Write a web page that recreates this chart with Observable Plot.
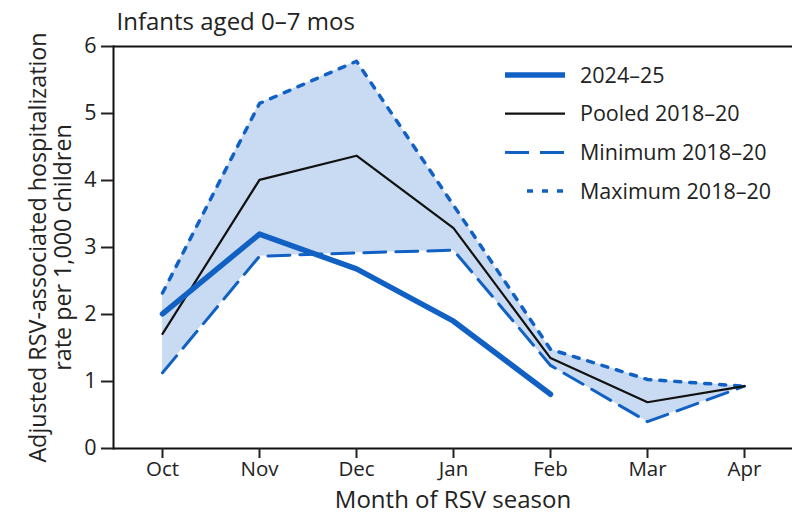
<!DOCTYPE html>
<html><head><meta charset="utf-8">
<script src="https://cdn.jsdelivr.net/npm/d3@7"></script>
<script src="https://cdn.jsdelivr.net/npm/@observablehq/plot@0.6"></script>
<style>
body{margin:0;background:#fff;font-family:"Open Sans",sans-serif}
#wrap{position:relative;width:792px;height:514px}
#legend{position:absolute;left:0;top:0}
</style>
</head><body><div id="wrap"></div>
<script>
const months = ["Oct","Nov","Dec","Jan","Feb","Mar","Apr"];
const season2024 = [2.01,3.2,2.68,1.9,0.81];
const pooled = [1.71,4.01,4.37,3.29,1.35,0.69,0.93];
const minimum = [1.13,2.87,2.92,2.96,1.24,0.40,0.93];
const maximum = [2.32,5.15,5.78,3.63,1.48,1.03,0.93];
const yTicks = [0,1,2,3,4,5,6];
const seriesLabels = ["2024–25","Pooled 2018–20","Minimum 2018–20","Maximum 2018–20"];
const titleText = "Infants aged 0–7 mos";
const yLabel = "Adjusted RSV-associated hospitalization\nrate per 1,000 children";
const xLabel = "Month of RSV season";

const blue = "#1161c4";
const band = "#c9dbf2";
const styles = [
  {stroke: blue, width: 5.5, dash: null},
  {stroke: "#111", width: 2.2, dash: null},
  {stroke: blue, width: 3, dash: "22,10"},
  {stroke: blue, width: 3.5, dash: "6,9"}
];

const bandRows = months.map((m, i) => ({month: m, lo: minimum[i], hi: maximum[i]}));
const rows = (vals) => vals.map((v, i) => ({month: months[i], value: v}));

const chart = Plot.plot({
  width: 792, height: 514,
  marginLeft: 113, marginRight: 0, marginTop: 46, marginBottom: 66,
  style: {fontFamily: '"Open Sans", sans-serif', fontSize: "21px", color: "#222", background: "#fff"},
  x: {type: "point", domain: months, padding: 0.47, label: null},
  y: {domain: [0, 6], label: null},
  marks: [
    Plot.areaY(bandRows, {x: "month", y1: "lo", y2: "hi", fill: band, curve: "linear"}),
    Plot.line(rows(minimum), {x: "month", y: "value", stroke: styles[2].stroke, strokeWidth: styles[2].width, strokeDasharray: styles[2].dash}),
    Plot.line(rows(maximum), {x: "month", y: "value", stroke: styles[3].stroke, strokeWidth: styles[3].width, strokeDasharray: styles[3].dash}),
    Plot.line(rows(pooled), {x: "month", y: "value", stroke: styles[1].stroke, strokeWidth: styles[1].width}),
    Plot.line(rows(season2024), {x: "month", y: "value", stroke: styles[0].stroke, strokeWidth: styles[0].width}),
    Plot.ruleY([0, 6], {stroke: "#111", strokeWidth: 2}),
    Plot.frame({anchor: "left", stroke: "#111", strokeWidth: 2}),
    Plot.axisY({ticks: yTicks, tickSize: 12, tickPadding: 5, tickFormat: d => String(d), label: null, fontSize: 21.5, strokeWidth: 2}),
    Plot.axisX({tickSize: 10, tickPadding: 3, label: null, fontSize: 20.5, strokeWidth: 2}),
    Plot.text([titleText], {frameAnchor: "top-left", dx: 3, dy: -24, lineAnchor: "middle", textAnchor: "start", fontSize: 24, fill: "#222"}),
    Plot.text([yLabel], {frameAnchor: "left", dx: -63, rotate: -90, lineAnchor: "middle", textAnchor: "middle", fontSize: 23.3, lineHeight: 1.07, fill: "#222"}),
    Plot.text([xLabel], {frameAnchor: "bottom", dy: 52, lineAnchor: "middle", textAnchor: "middle", fontSize: 24, fill: "#222"})
  ]
});
const wrap = document.getElementById("wrap");
wrap.appendChild(chart);

// legend overlay
const leg = d3.select(wrap).append("svg").attr("id", "legend")
  .attr("width", 792).attr("height", 514)
  .style("font-family", '"Open Sans", sans-serif');
const legX0 = 505, legX1 = 565, legTextX = 580, legY0 = 75, legStep = 38.7;
seriesLabels.forEach((lab, i) => {
  const s = styles[i];
  const y = legY0 + i * legStep;
  leg.append("line")
    .attr("x1", i === 3 ? legX0 + 22 : legX0).attr("x2", legX1)
    .attr("y1", y).attr("y2", y)
    .attr("stroke", s.stroke).attr("stroke-width", s.width)
    .attr("stroke-dasharray", i === 2 ? "24,11" : s.dash);
  leg.append("text").attr("x", legTextX).attr("y", y).attr("dy", "0.35em")
    .attr("font-size", 21.5).attr("fill", "#222").text(lab);
});
</script>
</body></html>
